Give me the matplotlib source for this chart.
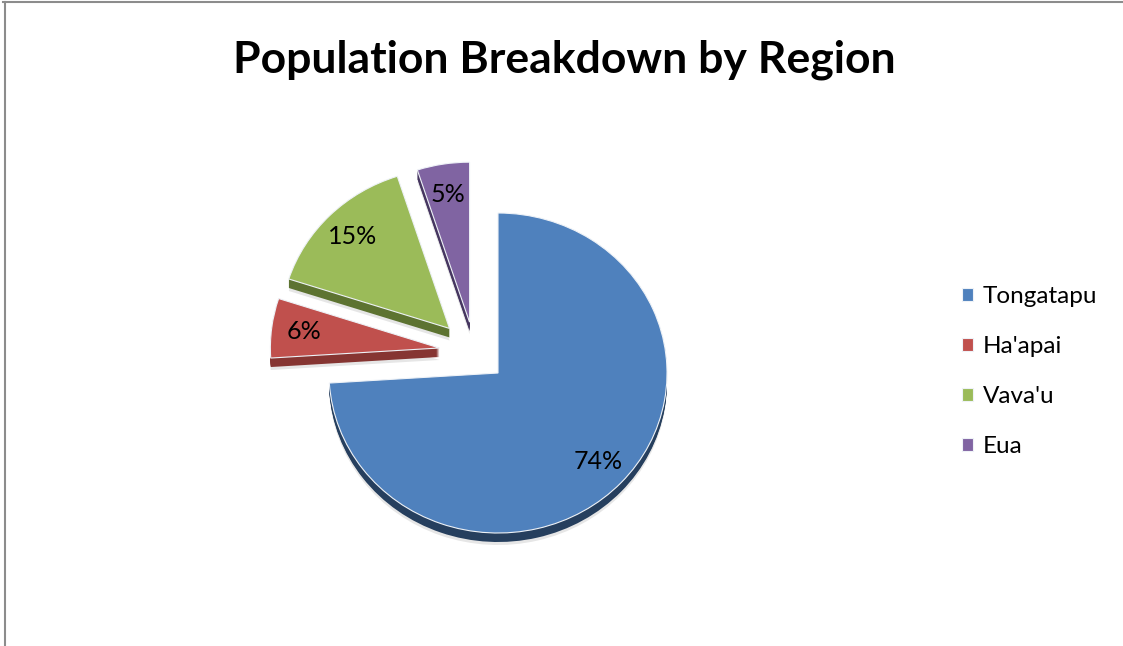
import matplotlib.pyplot as plt
from matplotlib.lines import Line2D

regions = ["Tongatapu", "Ha'apai", "Vava'u", "Eua"]
shares = [74, 6, 15, 5]
face_colors = ["#4F81BD", "#C0504D", "#9BBB59", "#8064A2"]
side_colors = ["#263f5e", "#863532", "#5d7331", "#463660"]
explode = [0.19, 0.21, 0.21, 0.19]

W, H = 1123, 646
fig = plt.figure(figsize=(W / 100, H / 100), dpi=100)
ax = fig.add_axes([0, 0, 1, 1])

# pie centre and radii in pixels (slightly squashed for the tilted look)
cx, cy = 474.6, H - 352.2
rx, ry = 169.0, 160.0
depth_px = 9

common = dict(explode=explode, startangle=90, counterclock=False)

# soft drop shadow under the slices
ax.pie(shares, colors=["#c8c8c8"] * 4, center=(0, -(depth_px + 3) / ry),
       wedgeprops=dict(linewidth=0, alpha=0.45), **common)
# side walls, stacked a pixel at a time
for d in range(depth_px, 0, -1):
    ax.pie(shares, colors=side_colors, center=(0, -d / ry),
           wedgeprops=dict(linewidth=0), **common)
# top faces with value labels
wedges, _, autotexts = ax.pie(
    shares, colors=face_colors, autopct="%.0f%%", pctdistance=0.81,
    textprops=dict(family="Lato", fontsize=18, color="black"),
    wedgeprops=dict(linewidth=0.8, edgecolor="#eef2f7"), **common)

ax.set_aspect("auto")
ax.set_xlim(-cx / rx, (W - cx) / rx)
ax.set_ylim(-cy / ry, (H - cy) / ry)
ax.axis("off")

fig.text(564 / W, 1 - 72 / H, "Population Breakdown by Region", ha="center", va="baseline",
         family="Lato", fontweight="bold", fontsize=32)

fig.legend(wedges, regions, loc="upper left", bbox_to_anchor=(940 / W, 1 - 264 / H),
           frameon=False, prop=dict(family="Lato", size=17.5),
           handlelength=0.45, handleheight=0.45, handletextpad=0.4, labelspacing=1.2)

# chart area border (top and left edges)
fig.add_artist(Line2D([3 / W, 1], [1 - 1.5 / H, 1 - 1.5 / H], transform=fig.transFigure,
                      color="#8c8c8c", lw=1.5))
fig.add_artist(Line2D([4.5 / W, 4.5 / W], [0, 1 - 1.5 / H], transform=fig.transFigure,
                      color="#8c8c8c", lw=1.5))

fig.savefig("out.png", dpi=100)
